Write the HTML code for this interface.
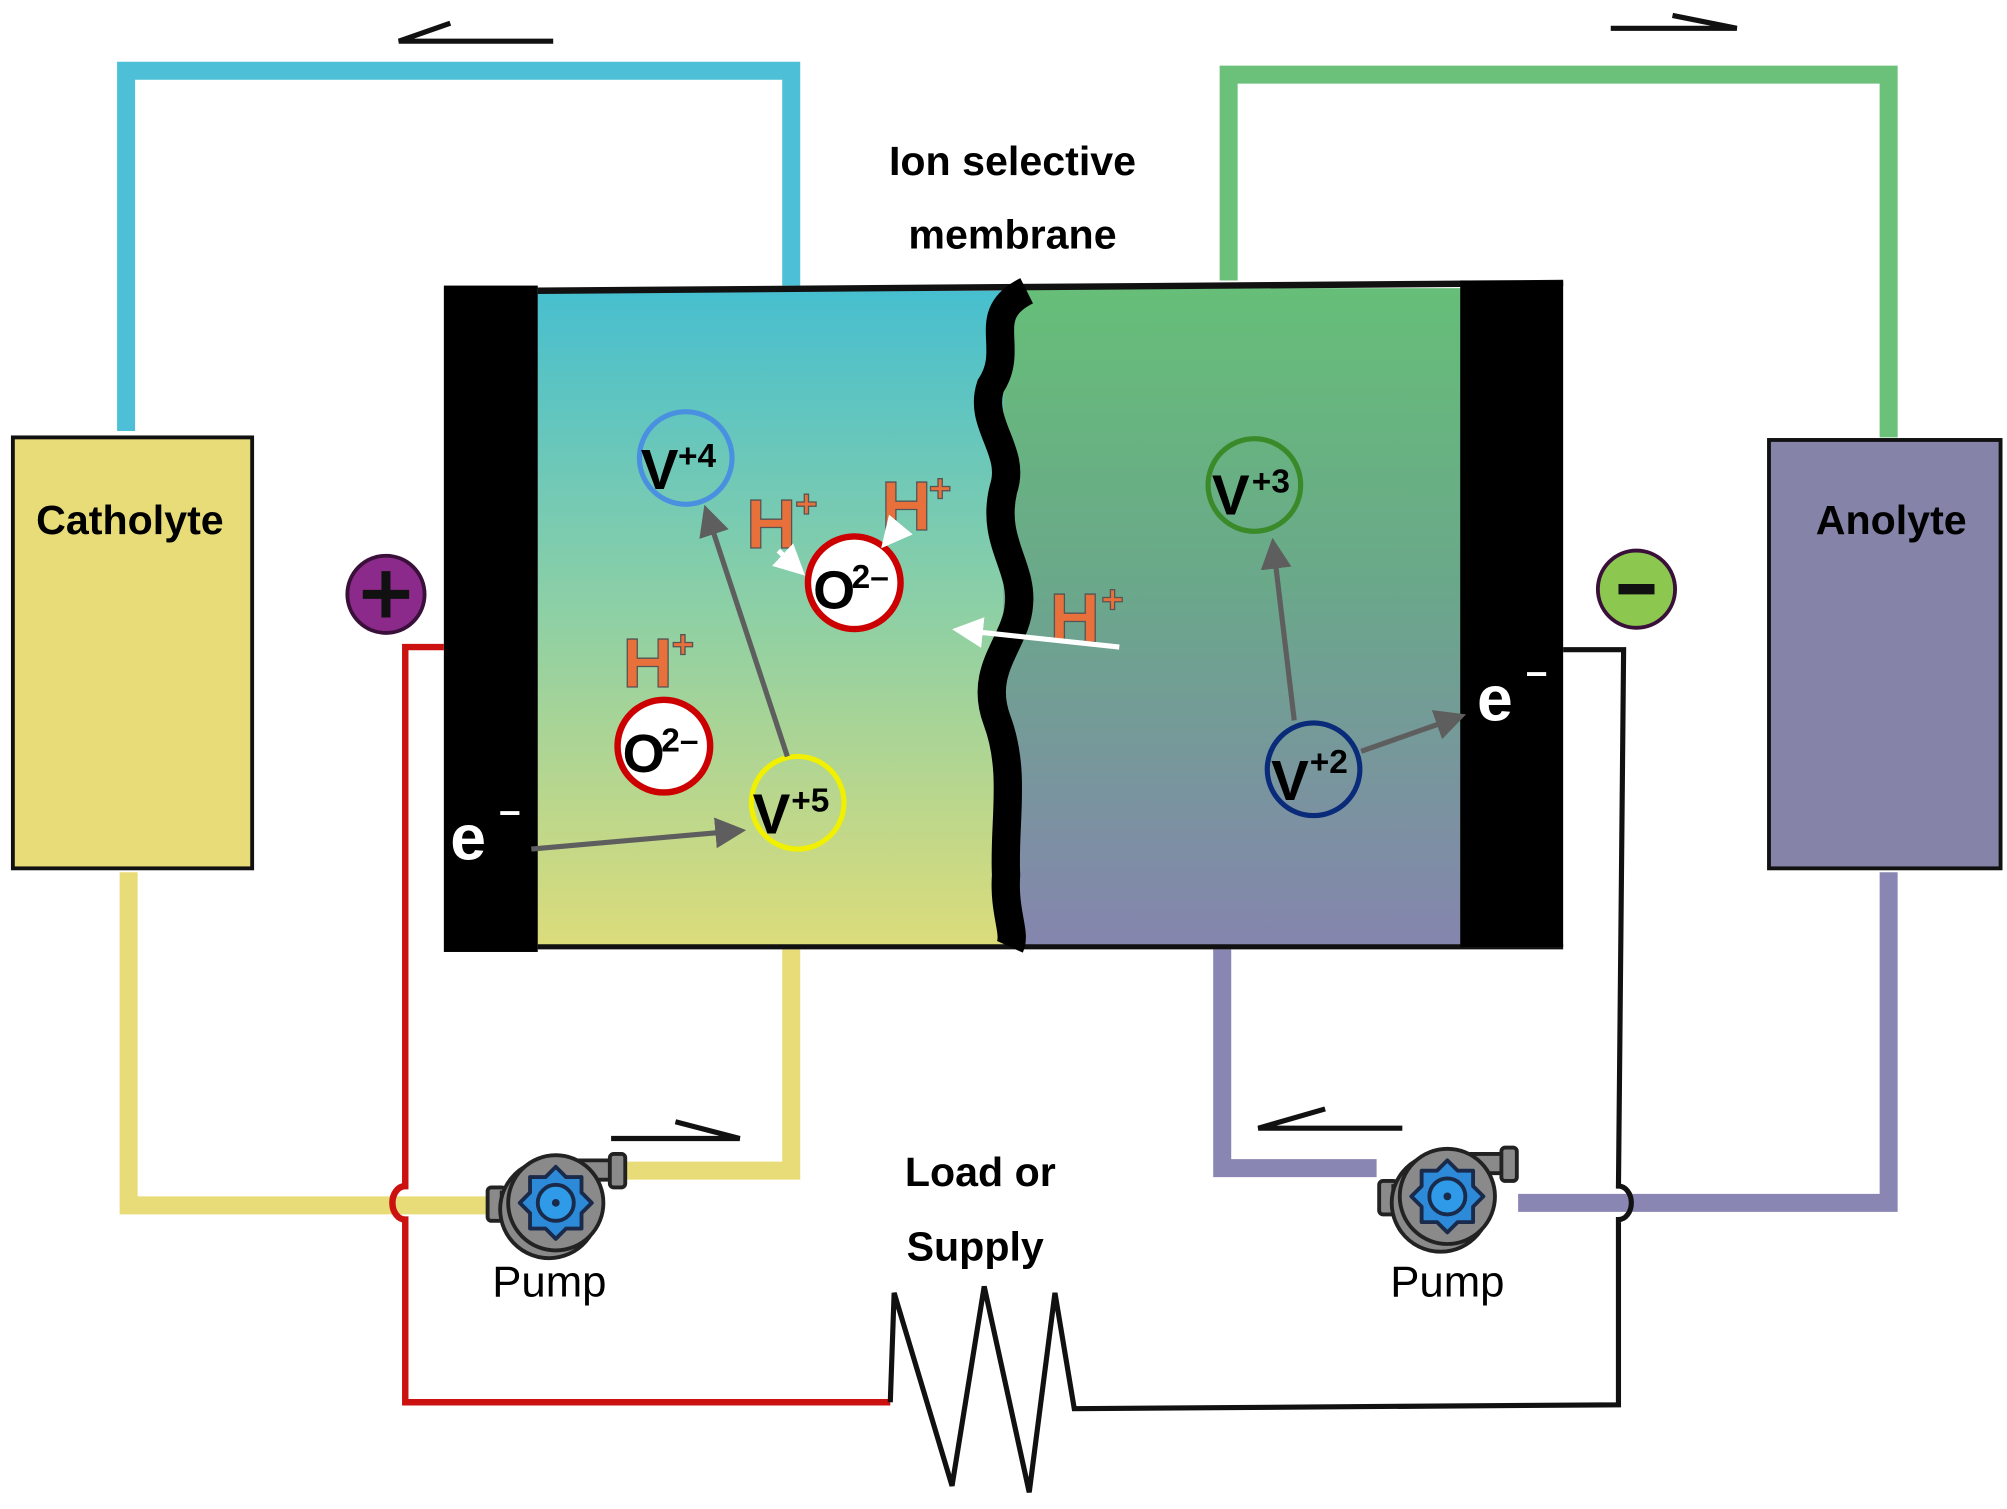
<!DOCTYPE html>
<html><head><meta charset="utf-8"><style>
html,body{margin:0;padding:0;background:#fff;}
svg{display:block;}
text{font-family:"Liberation Sans",sans-serif;}
</style></head><body>
<svg width="2007" height="1509" viewBox="0 0 1560 1173" preserveAspectRatio="none" xmlns="http://www.w3.org/2000/svg">
<defs>
<linearGradient id="lg" x1="0" y1="0" x2="0" y2="1">
<stop offset="0" stop-color="#47bfcf"/><stop offset="0.5" stop-color="#8fd0a4"/><stop offset="1" stop-color="#dcdc7a"/>
</linearGradient>
<linearGradient id="rg" x1="0" y1="0" x2="0" y2="1">
<stop offset="0" stop-color="#66be78"/><stop offset="0.45" stop-color="#6aa88a"/><stop offset="1" stop-color="#8585ae"/>
</linearGradient>
<marker id="ga" markerWidth="6" markerHeight="6" refX="4" refY="3" orient="auto" markerUnits="strokeWidth"><path d="M0,0 L6,3 L0,6 z" fill="#5e5e5e"/></marker>
<marker id="wa" markerWidth="6" markerHeight="6" refX="4" refY="3" orient="auto" markerUnits="strokeWidth"><path d="M0,0 L6,3 L0,6 z" fill="#fff"/></marker>
<g id="pump">
<rect x="-53" y="-12" width="14" height="26" rx="3" fill="#8a8a8a" stroke="#222" stroke-width="3"/>
<rect x="-42" y="-8" width="20" height="18" fill="#8a8a8a" stroke="#222" stroke-width="3"/>
<path d="M-5,-33 L45,-33 L45,-18 L25,-18 A38,38 0 1 1 -5,-33z" fill="#8a8a8a" stroke="#222" stroke-width="3"/>
<rect x="42" y="-38" width="12" height="26" rx="3" fill="#8a8a8a" stroke="#222" stroke-width="3"/>
<circle cx="0" cy="0" r="37" fill="#8a8a8a" stroke="#222" stroke-width="3"/>
<path d="M0,-28 L8,-20 L20,-20 L20,-8 L28,0 L20,8 L20,20 L8,20 L0,28 L-8,20 L-20,20 L-20,8 L-28,0 L-20,-8 L-20,-20 L-8,-20z" fill="#2d8ad8" stroke="#1a2a4a" stroke-width="3" stroke-linejoin="round"/>
<circle r="14" fill="#2e9ae8" stroke="#1a2a4a" stroke-width="3"/><circle r="3" fill="#1a2a4a"/>
</g>
</defs>
<!-- pipes -->
<path d="M98,335 L98,55 L615,55 L615,222" fill="none" stroke="#4dbfd6" stroke-width="14"/>
<path d="M955,218 L955,58 L1468,58 L1468,340" fill="none" stroke="#6cc17a" stroke-width="14"/>
<path d="M100,678 L100,937 L380,937 M485,910 L615,910 L615,738" fill="none" stroke="#e8dc78" stroke-width="14"/>
<path d="M1468,678 L1468,935 L1180,935 M1070,908 L950,908 L950,738" fill="none" stroke="#8a86b4" stroke-width="14"/>
<!-- arrows -->
<path d="M430,32 L310,32 L350,18" fill="none" stroke="#111" stroke-width="4"/>
<path d="M1252,22 L1350,22 L1300,12" fill="none" stroke="#111" stroke-width="4"/>
<path d="M475,885 L575,885 L525,872" fill="none" stroke="#111" stroke-width="4"/>
<path d="M1090,877 L978,877 L1030,862" fill="none" stroke="#111" stroke-width="4"/>
<!-- boxes -->
<rect x="10" y="340" width="186" height="335" fill="#e8dc78" stroke="#111" stroke-width="3"/>
<rect x="1375" y="342" width="180" height="333" fill="#8583a8" stroke="#111" stroke-width="3"/>
<text x="101" y="415" font-size="32" font-weight="bold" text-anchor="middle">Catholyte</text>
<text x="1470" y="415" font-size="32" font-weight="bold" text-anchor="middle">Anolyte</text>
<!-- cell -->
<rect x="418" y="226" width="365" height="510" fill="url(#lg)"/>
<rect x="780" y="224" width="356" height="512" fill="url(#rg)"/>
<path d="M418,226 L1215,220" stroke="#111" stroke-width="5"/>
<path d="M418,736 L1215,736" stroke="#111" stroke-width="4"/>
<rect x="345" y="222" width="73" height="518" fill="#000"/>
<rect x="1135" y="218" width="80" height="518" fill="#000"/>
<path d="M798,226 C760,245 790,270 770,300 C760,330 790,350 780,380 C770,420 795,440 792,470 C790,500 760,520 775,560 C790,600 780,640 782,680 C780,710 790,725 785,736" fill="none" stroke="#000" stroke-width="22"/>
<text x="787" y="136" font-size="32" font-weight="bold" text-anchor="middle">Ion selective</text>
<text x="787" y="193" font-size="32" font-weight="bold" text-anchor="middle">membrane</text>
<!-- species -->
<g font-weight="bold">
<circle cx="533" cy="356" r="36" fill="none" stroke="#4a90e0" stroke-width="4"/>
<text x="498" y="380" font-size="44">V</text><text x="527" y="363" font-size="26">+4</text>
<circle cx="620" cy="624" r="36" fill="none" stroke="#f0f000" stroke-width="4"/>
<text x="585" y="648" font-size="44">V</text><text x="615" y="631" font-size="26">+5</text>
<circle cx="975" cy="377" r="36" fill="none" stroke="#3a8a2a" stroke-width="4"/>
<text x="942" y="400" font-size="44">V</text><text x="973" y="383" font-size="26">+3</text>
<circle cx="1021" cy="598" r="36" fill="none" stroke="#0a2a7a" stroke-width="4"/>
<text x="988" y="622" font-size="44">V</text><text x="1018" y="601" font-size="26">+2</text>
<circle cx="664" cy="453" r="36" fill="#fff" stroke="#c00" stroke-width="5"/>
<text x="632" y="473" font-size="42">O</text><text x="662" y="457" font-size="26">2–</text>
<circle cx="516" cy="580" r="36" fill="#fff" stroke="#c00" stroke-width="5"/>
<text x="484" y="600" font-size="42">O</text><text x="514" y="584" font-size="26">2–</text>
<g fill="#e8703a" stroke="#555" stroke-width="1">
<text x="580" y="426" font-size="54">H</text><text x="618" y="402" font-size="30">+</text>
<text x="685" y="412" font-size="54">H</text><text x="722" y="390" font-size="30">+</text>
<text x="484" y="534" font-size="54">H</text><text x="522" y="511" font-size="30">+</text>
<text x="816" y="499" font-size="54">H</text><text x="856" y="476" font-size="30">+</text>
</g>
<text x="350" y="668" font-size="50" fill="#fff">e</text><text x="388" y="640" font-size="30" fill="#fff">–</text>
<text x="1148" y="560" font-size="50" fill="#fff">e</text><text x="1186" y="532" font-size="30" fill="#fff">–</text>
</g>
<g stroke="#5e5e5e" stroke-width="4">
<line x1="612" y1="588" x2="550" y2="400" marker-end="url(#ga)"/>
<line x1="413" y1="660" x2="572" y2="646" marker-end="url(#ga)"/>
<line x1="1006" y1="560" x2="990" y2="426" marker-end="url(#ga)"/>
<line x1="1058" y1="584" x2="1132" y2="558" marker-end="url(#ga)"/>
</g>
<g stroke="#fff" stroke-width="4">
<line x1="870" y1="503" x2="748" y2="490" marker-end="url(#wa)"/>
<line x1="605" y1="428" x2="620" y2="442" marker-end="url(#wa)"/>
<line x1="700" y1="408" x2="690" y2="420" marker-end="url(#wa)"/>
</g>
<!-- wires -->
<path d="M345,503 L315,503 L315,922 A10,13 0 0 0 315,948 L315,1090 L692,1090" fill="none" stroke="#cc1111" stroke-width="5"/>
<path d="M692,1090 L695,1005 L740,1155 L765,1000 L800,1160 L820,1005 L835,1095 L1258,1092 L1258,948 A10,13 0 0 0 1258,922 L1262,505 L1215,505" fill="none" stroke="#111" stroke-width="4"/>
<!-- terminals -->
<circle cx="300" cy="462" r="30" fill="#8b2a8b" stroke="#3a103a" stroke-width="3"/>
<path d="M300,444 V480 M282,462 H318" stroke="#111" stroke-width="7"/>
<circle cx="1272" cy="458" r="30" fill="#8cc850" stroke="#3a103a" stroke-width="3"/>
<path d="M1258,458 H1286" stroke="#111" stroke-width="8"/>
<!-- pumps -->
<use href="#pump" x="432" y="935"/>
<use href="#pump" x="1125" y="930"/>
<text x="427" y="1008" font-size="34" text-anchor="middle">Pump</text>
<text x="1125" y="1008" font-size="34" text-anchor="middle">Pump</text>
<text x="762" y="922" font-size="32" font-weight="bold" text-anchor="middle">Load or</text>
<text x="758" y="980" font-size="32" font-weight="bold" text-anchor="middle">Supply</text>
</svg>
</body></html>
